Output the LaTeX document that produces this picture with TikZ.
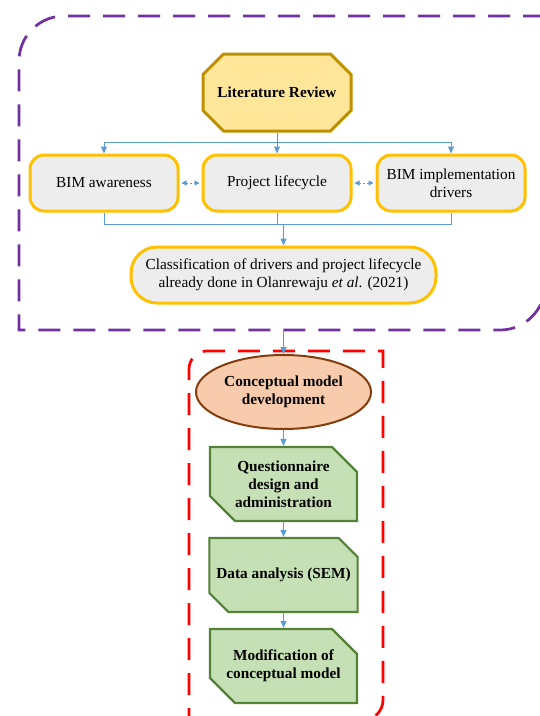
\documentclass[tikz,border=0pt]{standalone}
\usepackage{fontspec}
\setmainfont{Liberation Serif}
\usetikzlibrary{arrows.meta,shapes.geometric,shapes.misc}
\definecolor{litgold}{HTML}{BF9000}
\definecolor{litfill}{HTML}{FFE699}
\definecolor{boxgold}{HTML}{FFC000}
\definecolor{boxfill}{HTML}{EDEDED}
\definecolor{ovalbrown}{HTML}{843C0C}
\definecolor{ovalfill}{HTML}{F8CBAD}
\definecolor{stageline}{HTML}{538135}
\definecolor{stagefill}{HTML}{C5E0B4}
\definecolor{flowblue}{HTML}{5B9BD5}
\definecolor{framepurple}{HTML}{7030A0}
\newcommand\diagfont{\fontsize{15.3}{18}\selectfont}

\begin{document}
\begin{tikzpicture}[x=1pt, y=-1pt,
  every node/.style={font=\diagfont, align=center, inner sep=0pt},
  review/.style={chamfered rectangle, chamfered rectangle xsep=13pt, chamfered rectangle ysep=15pt, draw=litgold, fill=litfill, line width=3pt, minimum width=148pt, minimum height=77pt, font=\diagfont\bfseries},
  topic/.style={rectangle, rounded corners=14pt, draw=boxgold, fill=boxfill, line width=3pt, minimum width=148pt, minimum height=56pt},
  model/.style={ellipse, draw=ovalbrown, fill=ovalfill, line width=2pt, minimum width=175pt, minimum height=74pt, font=\diagfont\bfseries},
  stage/.style={chamfered rectangle, chamfered rectangle corners={north east,south west}, chamfered rectangle xsep=13pt, chamfered rectangle ysep=12pt, draw=stageline, fill=stagefill, line width=2.2pt, minimum width=147pt, minimum height=74pt, font=\diagfont\bfseries},
  link/.style={draw=flowblue, line width=1pt},
  edge/.style={link, -{Triangle[length=7pt,width=6pt]}},
  twoway/.style={link, dash pattern=on 2pt off 2pt, shorten <=2pt, shorten >=2pt, {Triangle[length=5pt,width=5pt]}-{Triangle[length=5pt,width=5pt]}},
  frame/.style={line width=2.7pt, dash pattern=on 22pt off 13pt}
]
\useasboundingbox (0,0) rectangle (540,716);
\draw[frame, draw=framepurple] (545,16) -- (64,16) .. controls (39.15,16) and (19,36.15) .. (19,61) -- (19,330) -- (500,330) .. controls (524.85,330) and (545,309.85) .. (545,285) -- cycle;
\draw[frame, draw=red] (189,730) -- (189,369) .. controls (189,359.06) and (197.06,351) .. (207,351) -- (383,351) -- (383,700) .. controls (383,711.05) and (374.05,720) .. (363,720) -- (189,720);

\node[review] (review) at (277,92.5) {Literature Review};
\node[topic] (aware) at (104,183) {BIM awareness};
\node[topic] (lifecycle) at (277,183) {Project lifecycle};
\node[topic] (drivers) at (451,183) {BIM implementation\\drivers};
\node[topic, rounded corners=26pt, minimum width=305pt] (classify) at (283.5,275) {Classification of drivers and project lifecycle\\already done in Olanrewaju \textit{et al}. (2021)};
\node[model] (concept) at (283.5,392) {Conceptual model\\development};
\node[stage] (quest) at (283.5,484) {Questionnaire\\design and\\administration};
\node[stage] (analysis) at (283.5,575) {Data analysis (SEM)};
\node[stage] (modify) at (283.5,666) {Modification of\\conceptual model};
\coordinate (topbar) at (0,142.5);
\coordinate (lowbar) at (0,224);
\coordinate (exit) at (283.5,330);

\draw[link] (review.south) -- (review.south |- topbar);
\draw[edge] (review.south |- topbar) -| (aware.north);
\draw[edge] (review.south |- topbar) -| (drivers.north);
\draw[edge] (review.south) -- (lifecycle.north);
\draw[twoway] (aware.east) -- (lifecycle.west);
\draw[twoway] (lifecycle.east) -- (drivers.west);
\draw[link] (aware.south) |- (drivers.south |- lowbar) -- (drivers.south);
\draw[link] (lifecycle.south) -- (lifecycle.south |- lowbar);
\draw[edge] (classify.north |- lowbar) -- (classify.north);
\draw[edge] (exit) -- (concept.north);
\draw[edge] (concept.south) -- (quest.north);
\draw[edge] (quest.south) -- (analysis.north);
\draw[edge] (analysis.south) -- (modify.north);
\end{tikzpicture}
\end{document}
